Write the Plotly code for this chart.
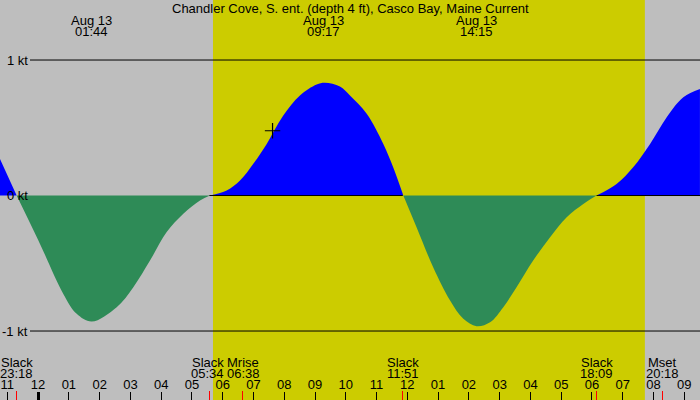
import plotly.graph_objects as go

# ---- data (hours relative to Aug 13 00:00, speed in knots) ----
times_h = [-1.238, -0.697, 0.062, 0.82, 1.254, 1.742, 2.554, 3.095, 3.637, 4.179,
           4.72, 5.262, 5.587, 6.129, 6.562, 6.994, 7.43, 7.969, 8.51, 9.054,
           9.324, 9.81, 10.136, 10.68, 11.22, 11.54, 11.87, 12.30, 12.84, 13.39,
           13.82, 14.25, 14.69, 15.12, 15.55, 16.09, 16.64, 17.18, 17.72, 18.15,
           18.80, 19.34, 19.89, 20.43, 20.97, 21.51]
speed_kt = [0.27, 0.0, -0.357, -0.726, -0.873, -0.93, -0.824, -0.676, -0.48, -0.27,
            -0.135, -0.037, 0.0, 0.037, 0.11, 0.234, 0.381, 0.59, 0.738, 0.819,
            0.832, 0.804, 0.738, 0.603, 0.381, 0.209, 0.0, -0.234, -0.529, -0.775,
            -0.91, -0.964, -0.935, -0.824, -0.676, -0.48, -0.307, -0.16, -0.062, 0.0,
            0.086, 0.209, 0.381, 0.578, 0.726, 0.787]

title_text = "Chandler Cove, S. ent. (depth 4 ft), Casco Bay, Maine Current"

# max current events (top labels)
max_times = [1.733, 9.283, 14.25, 21.59]
max_dates = ["Aug 13", "Aug 13", "Aug 13", "Aug 13"]
max_clock = ["01:44", "09:17", "14:15", "21:35"]

# slack / moon events (bottom labels and red ticks)
event_times = [-0.70, 5.567, 6.633, 11.85, 18.15, 20.30]
event_names = ["Slack", "Slack", "Mrise", "Slack", "Slack", "Mset"]
event_clock = ["23:18", "05:34", "06:38", "11:51", "18:09", "20:18"]
event_label_nudge = [0, -1.5, 1, 0, 0, 0]

# daylight period
sunrise_h = 5.684
sunset_h = 19.72

# hour ticks
hour_ticks = list(range(-1, 22))
hour_labels = ["11", "12", "01", "02", "03", "04", "05", "06", "07", "08", "09", "10",
               "11", "12", "01", "02", "03", "04", "05", "06", "07", "08", "09"]
midnight_ticks = [0]

levels = [1, 0, -1]
level_labels = ["1 kt", "0 kt", "-1 kt"]
ref_lines = [1, -1]

# current "now" marker
now_t = [7.62]
now_v = [0.478]

X_RANGE = [-1.238, 21.512]
Y_RANGE = [-1.509, 1.443]

GRAY = "#bebebe"
YELLOW = "#cccc00"
FLOOD = "#0000ff"
EBB = "#2e8b57"
FONT = "Liberation Sans"
FS = 13

pos = [v if v >= 0 else None for v in speed_kt]
neg = [v if v <= 0 else None for v in speed_kt]

fig = go.Figure()
fig.add_trace(go.Scatter(x=times_h, y=pos, mode="lines", line=dict(width=0, color=FLOOD, shape="spline", smoothing=1.0),
                         fill="tozeroy", fillcolor=FLOOD, connectgaps=False, hoverinfo="skip"))
fig.add_trace(go.Scatter(x=times_h, y=neg, mode="lines", line=dict(width=0, color=EBB, shape="spline", smoothing=1.0),
                         fill="tozeroy", fillcolor=EBB, connectgaps=False, hoverinfo="skip"))

# zero line under flood segments (from slack to slack)
zx, zy = [], []
flood_starts = [event_times[1], event_times[4]]
flood_ends = [event_times[3], X_RANGE[1]]
for s, e in zip(flood_starts, flood_ends):
    zx += [s, e, None]
    zy += [0, 0, None]
fig.add_trace(go.Scatter(x=zx, y=zy, mode="lines", line=dict(color="black", width=1), hoverinfo="skip"))

fig.add_trace(go.Scatter(x=now_t, y=now_v, mode="markers",
                         marker=dict(symbol="cross-thin", size=11, line=dict(color="black", width=1.2)),
                         hoverinfo="skip"))

# invisible traces to anchor extra axes
fig.add_trace(go.Scatter(x=[X_RANGE[0]], y=[0], xaxis="x2", mode="markers", marker=dict(opacity=0), hoverinfo="skip"))
fig.add_trace(go.Scatter(x=[X_RANGE[0]], y=[0], xaxis="x3", mode="markers", marker=dict(opacity=0), hoverinfo="skip"))

shapes = [
    dict(type="rect", xref="paper", yref="paper", x0=0, x1=1, y0=0, y1=1, fillcolor=GRAY, line=dict(width=0), layer="below"),
    dict(type="rect", xref="x", yref="paper", x0=sunrise_h, x1=sunset_h, y0=0, y1=1, fillcolor=YELLOW, line=dict(width=0), layer="below"),
]
for lv in ref_lines:
    shapes.append(dict(type="line", xref="paper", yref="y", x0=30 / 700, x1=1, y0=lv, y1=lv,
                       line=dict(color="black", width=1)))


def txt(text, xref, x, y_px, xanchor="center", yref="paper", y=None, xshift=0):
    return dict(text=text, xref=xref, yref=yref, x=x, y=(1 - y_px / 400) if y is None else y,
                xanchor=xanchor, yanchor="middle", showarrow=False, borderpad=0, xshift=xshift,
                font=dict(size=FS, color="black", family=FONT))


annotations = [txt(title_text, "paper", 0.5, 8)]
for t, d, c in zip(max_times, max_dates, max_clock):
    annotations.append(txt(d, "x", t, 20))
    annotations.append(txt(c, "x", t, 31.5))
for t, n, c, nd in zip(event_times, event_names, event_clock, event_label_nudge):
    annotations.append(txt(n, "x", t, 362, xshift=nd))
    annotations.append(txt(c, "x", t, 373.5, xshift=nd))
for lv, lab in zip(levels, level_labels):
    annotations.append(txt(lab, "paper", 29 / 700, 0, xanchor="right", yref="y", y=lv))

fig.update_layout(
    width=700, height=400, margin=dict(l=0, r=0, t=0, b=0, pad=0),
    paper_bgcolor=GRAY, plot_bgcolor=GRAY, showlegend=False,
    font=dict(family=FONT, size=FS, color="black"),
    shapes=shapes, annotations=annotations,
    xaxis=dict(range=X_RANGE, tickvals=hour_ticks, ticktext=hour_labels, ticks="inside", ticklen=8,
               tickwidth=1, tickcolor="black", ticklabelposition="inside", ticklabelstandoff=0,
               tickfont=dict(size=FS, family=FONT, color="black"),
               showgrid=False, zeroline=False, showline=False, fixedrange=True),
    xaxis2=dict(range=X_RANGE, overlaying="x", anchor="y", side="bottom", tickvals=midnight_ticks,
                ticktext=[""], ticks="inside", ticklen=8, tickwidth=2.5, tickcolor="black",
                showgrid=False, zeroline=False, showline=False, showticklabels=False),
    xaxis3=dict(range=X_RANGE, overlaying="x", anchor="y", side="bottom", tickvals=event_times,
                ticktext=[""] * len(event_times), ticks="inside", ticklen=9, tickwidth=1, tickcolor="red",
                showgrid=False, zeroline=False, showline=False, showticklabels=False),
    yaxis=dict(range=Y_RANGE, showticklabels=False, ticks="", showgrid=False, zeroline=False,
               showline=False, fixedrange=True),
)

fig.write_html("out.html", config={"displayModeBar": False},
               post_script="document.body.style.margin='0';document.body.style.overflow='hidden';")
